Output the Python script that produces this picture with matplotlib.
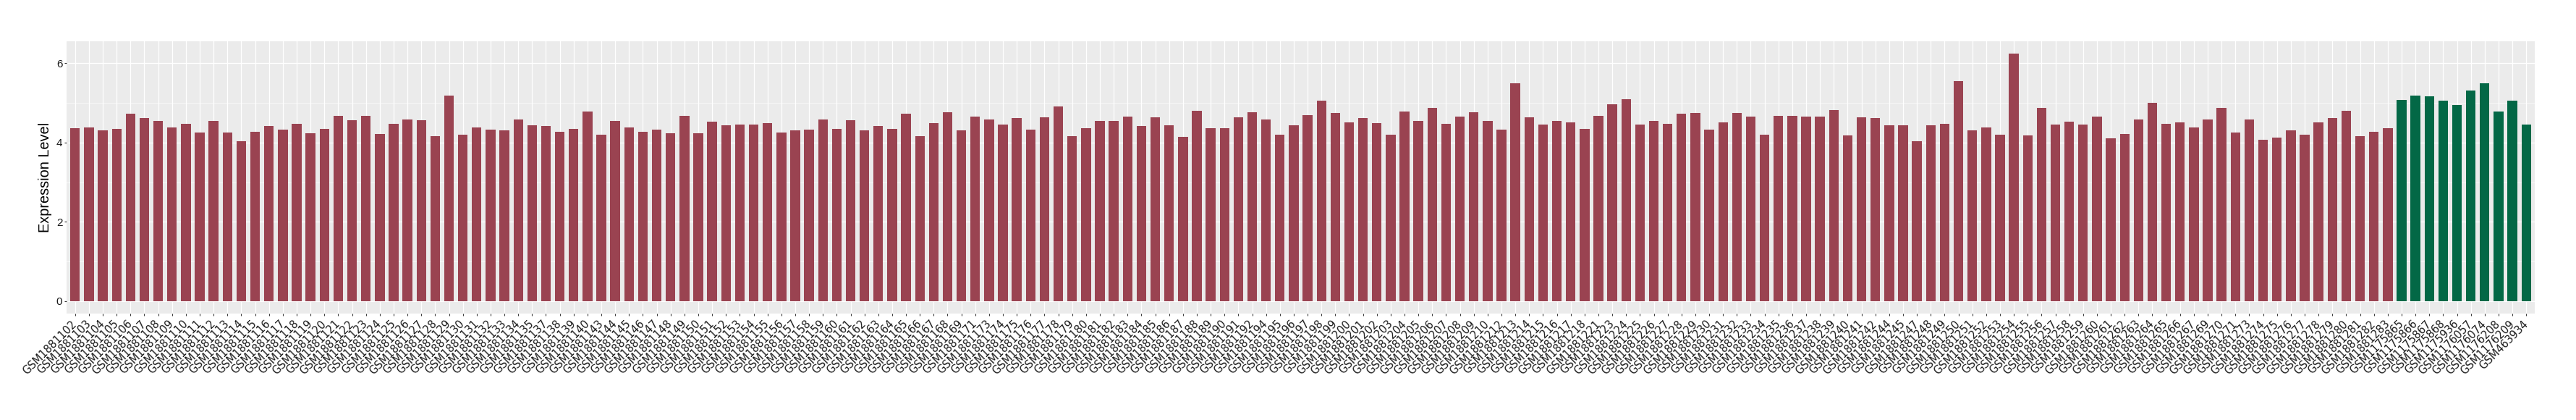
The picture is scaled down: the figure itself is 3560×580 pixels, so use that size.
import matplotlib
matplotlib.use("Agg")
import matplotlib.pyplot as plt
from matplotlib.ticker import MultipleLocator

# samples of the first group (dark red bars)
group_a_ids = [
    1102, 1103, 1104, 1105, 1106, 1107, 1108, 1109, 1110, 1111, 1112, 1113, 1114,
    1115, 1116, 1117, 1118, 1119, 1120, 1121, 1122, 1123, 1124, 1125, 1126, 1127,
    1128, 1129, 1130, 1131, 1132, 1133, 1134, 1135, 1137, 1138, 1139, 1140, 1143,
    1144, 1145, 1146, 1147, 1148, 1149, 1150, 1151, 1152, 1153, 1154, 1155, 1156,
    1157, 1158, 1159, 1160, 1161, 1162, 1163, 1164, 1165, 1166, 1167, 1168, 1169,
    1171, 1173, 1174, 1175, 1176, 1177, 1178, 1179, 1180, 1181, 1182, 1183, 1184,
    1185, 1186, 1187, 1188, 1189, 1190, 1191, 1192, 1194, 1195, 1196, 1197, 1198,
    1199, 1200, 1201, 1202, 1203, 1204, 1205, 1206, 1207, 1208, 1209, 1210, 1212,
    1213, 1214, 1215, 1216, 1217, 1218, 1221, 1223, 1224, 1225, 1226, 1227, 1228,
    1229, 1230, 1231, 1232, 1233, 1234, 1235, 1236, 1237, 1238, 1239, 1240, 1241,
    1242, 1244, 1245, 1247, 1248, 1249, 1250, 1251, 1252, 1253, 1254, 1255, 1256,
    1257, 1258, 1259, 1260, 1261, 1262, 1263, 1264, 1265, 1266, 1267, 1269, 1270,
    1271, 1273, 1274, 1275, 1276, 1277, 1278, 1279, 1280, 1281, 1282, 1283,
]
group_a_values = [
    4.36, 4.38, 4.31, 4.35, 4.73, 4.62, 4.55, 4.38, 4.48, 4.26, 4.55, 4.26, 4.04,
    4.28, 4.41, 4.33, 4.48, 4.24, 4.35, 4.68, 4.57, 4.68, 4.22, 4.48, 4.59, 4.57,
    4.17, 5.19, 4.20, 4.39, 4.33, 4.31, 4.59, 4.44, 4.41, 4.28, 4.35, 4.79, 4.20,
    4.55, 4.39, 4.28, 4.33, 4.24, 4.68, 4.24, 4.53, 4.43, 4.46, 4.46, 4.49, 4.26,
    4.31, 4.33, 4.59, 4.35, 4.57, 4.31, 4.41, 4.35, 4.72, 4.17, 4.49, 4.77, 4.30,
    4.66, 4.59, 4.46, 4.61, 4.33, 4.64, 4.92, 4.17, 4.36, 4.55, 4.55, 4.66, 4.41,
    4.64, 4.44, 4.15, 4.80, 4.36, 4.36, 4.64, 4.77, 4.59, 4.20, 4.43, 4.70, 5.05,
    4.75, 4.51, 4.62, 4.49, 4.20, 4.79, 4.55, 4.88, 4.48, 4.66, 4.77, 4.55, 4.33,
    5.50, 4.64, 4.46, 4.55, 4.51, 4.35, 4.68, 4.97, 5.10, 4.46, 4.55, 4.48, 4.72,
    4.75, 4.33, 4.51, 4.74, 4.66, 4.20, 4.68, 4.68, 4.66, 4.66, 4.82, 4.18, 4.64,
    4.61, 4.43, 4.43, 4.04, 4.43, 4.48, 5.55, 4.30, 4.39, 4.20, 6.25, 4.18, 4.88,
    4.46, 4.53, 4.46, 4.66, 4.11, 4.22, 4.59, 5.01, 4.48, 4.51, 4.39, 4.59, 4.88,
    4.26, 4.59, 4.07, 4.13, 4.30, 4.20, 4.51, 4.62, 4.80, 4.17, 4.28, 4.36,
]

# samples of the second group (dark green bars)
group_b_labels = [
    "GSM1175865", "GSM1175866", "GSM1175867", "GSM1175868", "GSM1175936",
    "GSM1176057", "GSM1176074", "GSM1176208", "GSM1176209", "GSM463934",
]
group_b_values = [5.08, 5.19, 5.16, 5.05, 4.95, 5.32, 5.50, 4.79, 5.05, 4.46]

color_a = "#9A4351"
color_b = "#036846"

labels = ["GSM188" + str(i) for i in group_a_ids] + group_b_labels
values = group_a_values + group_b_values
colors = [color_a] * len(group_a_values) + [color_b] * len(group_b_values)

plt.rcParams["font.family"] = ["Liberation Sans", "DejaVu Sans"]

fig = plt.figure(figsize=(35.6, 5.8), dpi=100)
ax = fig.add_axes([0.02593, 0.25397, 0.95797, 0.64827])

xs = list(range(len(values)))
ax.bar(xs, values, width=0.7, color=colors, zorder=3)

ax.set_facecolor("#EBEBEB")
ax.set_xlim(-0.6, len(values) - 0.4)
ax.set_ylim(-0.3125, 6.5625)
ax.yaxis.set_major_locator(MultipleLocator(2))
ax.yaxis.set_minor_locator(MultipleLocator(1))
ax.grid(which="major", color="white", linewidth=0.9, zorder=0)
ax.grid(which="minor", axis="y", color="white", linewidth=0.45, zorder=0)
ax.set_axisbelow(True)
for sp in ax.spines.values():
    sp.set_visible(False)

ax.set_xticks(xs)
ax.set_xticklabels(labels, rotation=45, ha="right", va="center",
                   rotation_mode="anchor", fontsize=10.5, color="#1A1A1A",
                   family="DejaVu Sans")
ax.tick_params(axis="x", length=2.3, width=0.8, color="#333333", pad=6.5)
ax.tick_params(axis="y", which="major", length=2.3, width=0.8, color="#333333",
               labelsize=11, labelcolor="#1A1A1A", pad=2)
ax.tick_params(axis="y", which="minor", length=0)

ax.set_ylabel("Expression Level", fontsize=14.3, color="black", labelpad=4)

fig.savefig("out.png", dpi=100)
